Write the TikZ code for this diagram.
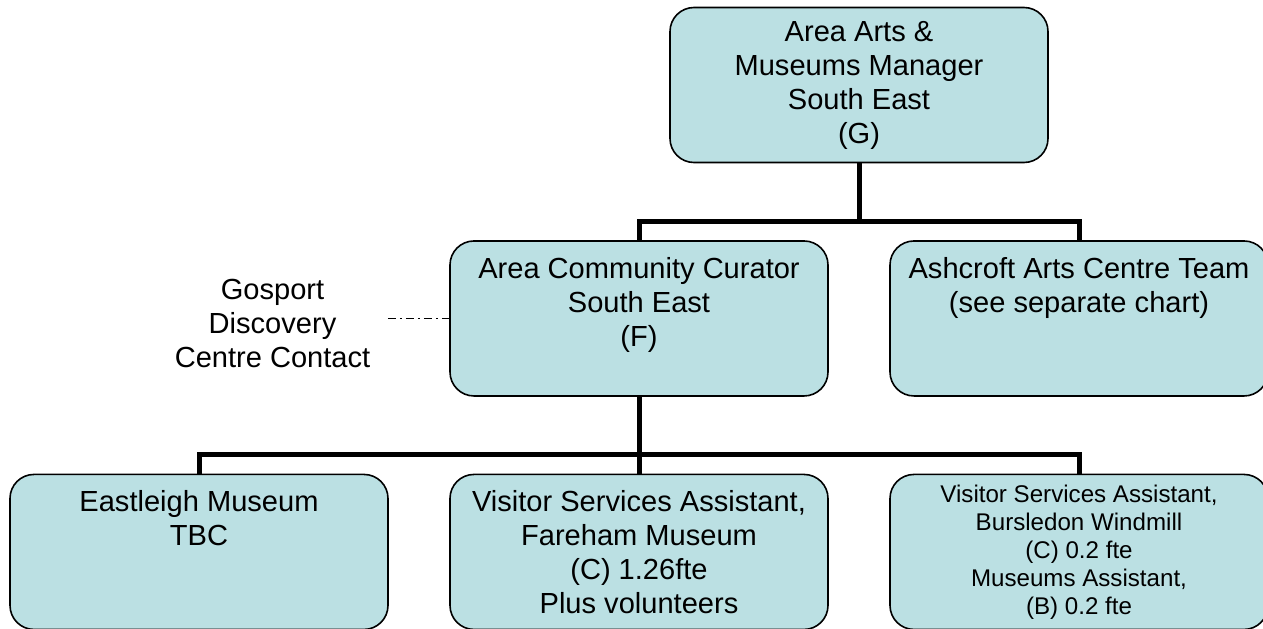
\documentclass[tikz,border=0pt]{standalone}
\usepackage{fontspec}
\setmainfont{Liberation Sans}
\usetikzlibrary{positioning}
\definecolor{boxblue}{RGB}{187,224,227}
\begin{document}
\begin{tikzpicture}[x=0.75pt, y=-0.75pt,
  level distance=175.1pt, sibling distance=330pt,
  orgbox/.style={draw=black, line width=1.2pt, fill=boxblue, rounded corners=18pt,
    minimum width=283.5pt, minimum height=116.25pt, align=center,
    font=\fontsize{21.8pt}{25.5pt}\selectfont},
  smalltext/.style={font=\fontsize{18.1pt}{21pt}\selectfont},
  dotdash/.style={line width=0.8pt, dash pattern=on 6pt off 3pt on 1.5pt off 3pt},
  edge from parent/.style={draw, line width=3.75pt},
  edge from parent path={(\tikzparentnode.south) |- ([yshift=14pt]\tikzchildnode.north) -- (\tikzchildnode.north)}]
\useasboundingbox (0,0) rectangle (1263,628);
\clip (0,0) rectangle (1263,628);
\node [orgbox] (manager) at (859,85) {Area Arts \&\\Museums Manager\\South East\\(G)}
  child {
    node [orgbox] (curator) {Area Community Curator\\South East\\(F)\\~}
    child {
      node [orgbox] (eastleigh) {Eastleigh Museum\\TBC\\~\\~}
    }
    child {
      node [orgbox] (fareham) {Visitor Services Assistant,\\Fareham Museum\\(C) 1.26fte\\Plus volunteers}
    }
    child {
      node [orgbox, smalltext] (bursledon) {Visitor Services Assistant,\\Bursledon Windmill\\(C) 0.2 fte\\Museums Assistant,\\(B) 0.2 fte}
    }
  }
  child {
    node [orgbox] (ashcroft) {Ashcroft Arts Centre Team\\(see separate chart)\\~\\~}
  };
% contact outside the line structure
\node [left=46pt of curator, yshift=-4pt, inner xsep=13pt, align=center,
  font=\fontsize{21.8pt}{25.5pt}\selectfont] (gosport) {Gosport\\Discovery\\Centre Contact};
\draw [dotdash] (gosport.east |- curator.west) -- (curator.west);
\end{tikzpicture}
\end{document}
